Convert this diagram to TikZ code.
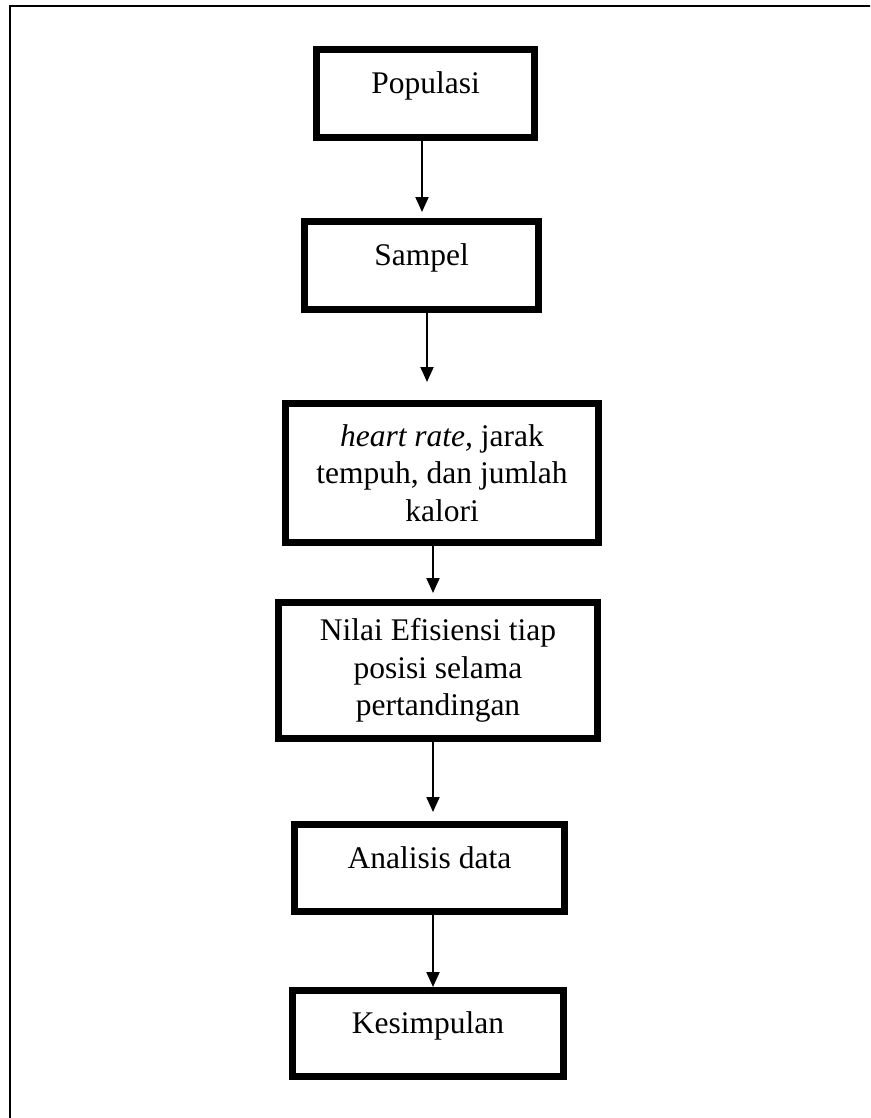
\documentclass[tikz,border=0pt]{standalone}
\usepackage{fontspec}
\setmainfont{Liberation Serif}
\usetikzlibrary{arrows.meta}
\begin{document}
\begin{tikzpicture}[x=1pt,y=-1pt,
  stepbox/.style={draw, line width=6.5pt, inner sep=0pt, align=center,
    font=\fontsize{31.5}{37.5}\selectfont},
  oneline/.style={text height=20pt, text depth=20pt},
  arr/.style={line width=2pt, -{Triangle[width=13pt,length=15pt]}}]
\useasboundingbox (0,0) rectangle (870,1118);
\clip (0,0) rectangle (870,1118);
% outer frame (top and left edges visible)
\draw[line width=2.5pt] (10,1140) -- (10,6) -- (890,6);
% boxes
\node[stepbox, oneline, minimum width=218.4pt, minimum height=88.4pt] (b1) at (425.5,93.5) {Populasi};
\node[stepbox, oneline, minimum width=234.4pt, minimum height=88.4pt] (b2) at (421.5,265.5) {Sampel};
\node[stepbox, minimum width=313.4pt, minimum height=139.4pt] (b3) at (442,473) {\textit{heart rate,} jarak\\tempuh, dan jumlah\\kalori};
\node[stepbox, minimum width=319.4pt, minimum height=136.4pt] (b4) at (438,670.5) {Nilai Efisiensi tiap\\posisi selama\\pertandingan};
\node[stepbox, oneline, minimum width=270.4pt, minimum height=87.4pt] (b5) at (429.5,868) {Analisis data};
\node[stepbox, oneline, minimum width=271.4pt, minimum height=86.4pt] (b6) at (428,1033.5) {Kesimpulan};
% arrow tips
\coordinate (t1) at (422,212);
\coordinate (t2) at (427,382);
\coordinate (t3) at (433,593);
\coordinate (t4) at (433,812);
\coordinate (t5) at (433,987);
\draw[arr] (b1.south -| t1) -- (t1);
\draw[arr] (b2.south -| t2) -- (t2);
\draw[arr] (b3.south -| t3) -- (t3);
\draw[arr] (b4.south -| t4) -- (t4);
\draw[arr] (b5.south -| t5) -- (t5);
\end{tikzpicture}
\end{document}
